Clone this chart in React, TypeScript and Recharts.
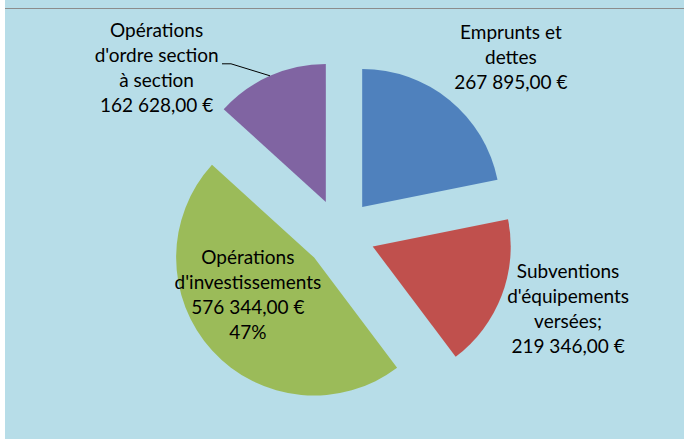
import { PieChart, Pie, Cell } from "recharts";

const categories = [
  "Emprunts et dettes",
  "Subventions d'équipements versées",
  "Opérations d'investissements",
  "Opérations d'ordre section à section",
];
const labelLines = [
  ["Emprunts et", "dettes"],
  ["Subventions", "d'équipements", "versées;"],
  ["Opérations", "d'investissements"],
  ["Opérations", "d'ordre section", "à section"],
];
const amounts = [267895, 219346, 576344, 162628];
const showPercent = [false, false, true, false];
const colors = ["#4f81bd", "#c0504d", "#9bbb59", "#8064a2"];

const data = categories.map((name, i) => ({ name, value: amounts[i] }));
const total = amounts.reduce((a, b) => a + b, 0);

// label placement around each (exploded) slice: distance and angle shift from its mid angle
const labelLayout = [
  { r: 211, da: -5.5 },
  { r: 205, da: 3.2 },
  { r: 76, da: -13 },
  { r: 216, da: 27.7 },
];

const RAD = Math.PI / 180;
const CX = 335;
const CY = 234;
const RADIUS = 138;
const EXPLODE = 35;
const FONT = "Lato, 'Liberation Sans', sans-serif";

const fmt = (v: number) =>
  v
    .toFixed(2)
    .replace(".", ",")
    .replace(/\B(?=(\d{3})+(?!\d))/g, " ") + " €";

const midAngles: number[] = [];
{
  let start = 90;
  amounts.forEach((v) => {
    const a = (360 * v) / total;
    midAngles.push(start - a / 2);
    start -= a;
  });
}

function makeLabel(i: number) {
  return (props: any) => {
    if (props.index !== i) return null;
    const { cx, cy, midAngle, outerRadius } = props;
    const { r, da } = labelLayout[i];
    const ang = (midAngle + da) * RAD;
    const lx = cx + r * Math.cos(ang);
    const ly = cy - r * Math.sin(ang);
    const lines = [...labelLines[i], fmt(amounts[i])];
    if (showPercent[i]) lines.push(Math.round((amounts[i] / total) * 100) + "%");
    const lh = 25;
    const y0 = ly - ((lines.length - 1) * lh) / 2;
    let leader = null;
    if (i === 3) {
      const ax = cx + outerRadius * Math.cos(midAngle * RAD);
      const ay = cy - outerRadius * Math.sin(midAngle * RAD);
      leader = (
        <polyline
          points={`${ax},${ay} ${ax - 39},${ay - 12} ${ax - 48},${ay - 12}`}
          fill="none"
          stroke="#000"
          strokeWidth={1}
        />
      );
    }
    return (
      <g key={"l" + i}>
        {leader}
        <text textAnchor="middle" fontFamily={FONT} fontSize={19} fill="#000">
          {lines.map((t, k) => (
            <tspan key={k} x={lx} y={y0 + k * lh} dy="0.35em">
              {t}
            </tspan>
          ))}
        </text>
      </g>
    );
  };
}

export default function App() {
  return (
    <div style={{ position: "absolute", left: 0, top: 0, width: 684, height: 439, background: "#fff" }}>
      <div style={{ position: "absolute", left: 5, top: 0, width: 679, height: 439, background: "#b7dde8" }}>
        <div style={{ position: "absolute", left: 0, top: 8, width: 679, height: 1, background: "#8c8c8c" }} />
        <PieChart width={679} height={439} margin={{ top: 0, right: 0, bottom: 0, left: 0 }}>
          {midAngles.map((mid, i) => (
            <Pie
              key={i}
              data={data}
              dataKey="value"
              nameKey="name"
              cx={CX + EXPLODE * Math.cos(mid * RAD)}
              cy={CY - EXPLODE * Math.sin(mid * RAD)}
              outerRadius={RADIUS}
              startAngle={90}
              endAngle={-270}
              stroke="none"
              isAnimationActive={false}
              label={makeLabel(i)}
              labelLine={false}
            >
              {data.map((_, j) => (
                <Cell key={j} fill={j === i ? colors[j] : "transparent"} />
              ))}
            </Pie>
          ))}
        </PieChart>
      </div>
    </div>
  );
}
